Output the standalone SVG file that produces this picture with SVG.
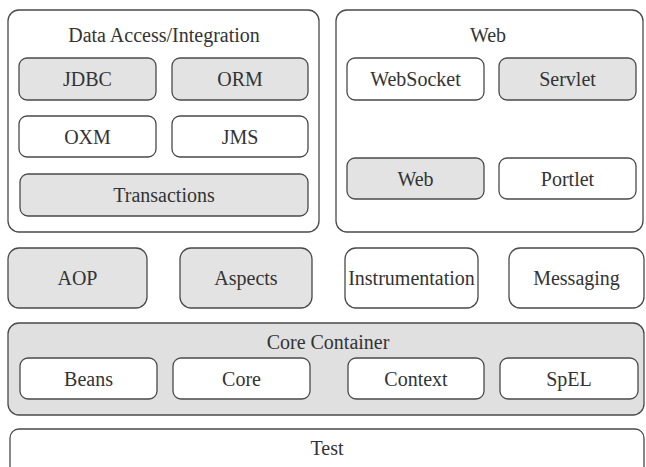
<svg xmlns="http://www.w3.org/2000/svg" width="646" height="467" viewBox="0 0 646 467">
<style>
.outer{fill:#ffffff;stroke:#4a4a4a;stroke-width:1.3}
.box{fill:#ffffff;stroke:#4a4a4a;stroke-width:1.3}
.gray{fill:#e3e3e3;stroke:#4a4a4a;stroke-width:1.3}
.core{fill:#e0e0e0;stroke:#4a4a4a;stroke-width:1.3}
text{font-family:"Liberation Serif","Times New Roman",serif;font-size:20px;fill:#333333;text-anchor:middle}
</style>
<rect width="646" height="467" fill="#ffffff"/>
<g id="data-access">
<rect class="outer" x="8" y="10" width="311" height="222" rx="11"/>
<text x="164" y="42">Data Access/Integration</text>
</g>
<g id="jdbc"><rect class="gray" x="19" y="58" width="137" height="42" rx="8"/><text x="87.5" y="86">JDBC</text></g>
<g id="orm"><rect class="gray" x="172" y="58" width="136" height="42" rx="8"/><text x="240" y="86">ORM</text></g>
<g id="oxm"><rect class="box" x="19" y="116" width="137" height="41" rx="8"/><text x="87.5" y="143.5">OXM</text></g>
<g id="jms"><rect class="box" x="172" y="116" width="136" height="41" rx="8"/><text x="240" y="143.5">JMS</text></g>
<g id="transactions"><rect class="gray" x="20" y="174" width="288" height="42" rx="8"/><text x="164" y="202">Transactions</text></g>
<g id="web-group">
<rect class="outer" x="336" y="10" width="307" height="222" rx="11"/>
<text x="488" y="42">Web</text>
</g>
<g id="websocket"><rect class="box" x="347" y="58" width="137" height="42" rx="8"/><text x="415.5" y="86">WebSocket</text></g>
<g id="servlet"><rect class="gray" x="499" y="58" width="137" height="42" rx="8"/><text x="567.5" y="86">Servlet</text></g>
<g id="web"><rect class="gray" x="347" y="158" width="137" height="41" rx="8"/><text x="415.5" y="185.5">Web</text></g>
<g id="portlet"><rect class="box" x="499" y="158" width="137" height="41" rx="8"/><text x="567.5" y="185.5">Portlet</text></g>
<g id="aop"><rect class="gray" x="8" y="248" width="139" height="60" rx="11"/><text x="77.5" y="285">AOP</text></g>
<g id="aspects"><rect class="gray" x="180" y="248" width="132" height="60" rx="11"/><text x="246" y="285">Aspects</text></g>
<g id="instrumentation"><rect class="box" x="345" y="248" width="133" height="60" rx="11"/><text x="411.5" y="285">Instrumentation</text></g>
<g id="messaging"><rect class="box" x="509" y="248" width="135" height="60" rx="11"/><text x="576.5" y="285">Messaging</text></g>
<g id="core-container">
<rect class="core" x="8" y="323" width="636" height="92" rx="11"/>
<text x="328" y="349">Core Container</text>
</g>
<g id="beans"><rect class="box" x="20" y="358" width="137" height="41" rx="8"/><text x="88.5" y="385.5">Beans</text></g>
<g id="core"><rect class="box" x="173" y="358" width="137" height="41" rx="8"/><text x="241.5" y="385.5">Core</text></g>
<g id="context"><rect class="box" x="348" y="358" width="136" height="41" rx="8"/><text x="416" y="385.5">Context</text></g>
<g id="spel"><rect class="box" x="500" y="358" width="138" height="41" rx="8"/><text x="569" y="385.5">SpEL</text></g>
<g id="test"><rect class="box" x="10" y="429" width="634" height="50" rx="9"/><text x="327" y="455">Test</text></g>
<g id="connectors"></g>
</svg>
